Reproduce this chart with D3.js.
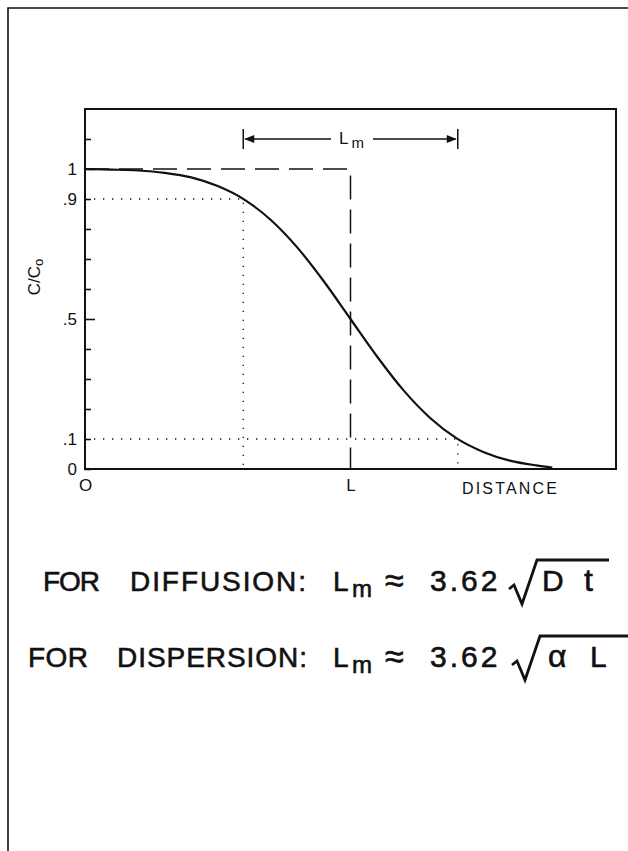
<!DOCTYPE html>
<html>
<head>
<meta charset="utf-8">
<script src="https://cdn.jsdelivr.net/npm/d3@7"></script>
<style>
  html, body { margin: 0; padding: 0; background: #fff; }
  svg { display: block; }
  text { font-family: "Liberation Sans", Arial, sans-serif; fill: #111; }
</style>
</head>
<body>
<svg id="chart" width="628" height="851"></svg>
<script>
// ---- data ----
const distance = [0, 0.1, 0.2, 0.3, 0.4, 0.5, 0.6, 0.7, 0.8, 0.9, 1.0, 1.1, 1.2, 1.3, 1.4, 1.5, 1.6, 1.7, 1.76];
const concentration = [1.0, 0.998, 0.995, 0.987, 0.972, 0.943, 0.898, 0.830, 0.738, 0.625, 0.5, 0.375, 0.262, 0.170, 0.102, 0.057, 0.028, 0.012, 0.005];
const yTickValues = [0, 0.1, 0.2, 0.3, 0.4, 0.5, 0.6, 0.7, 0.8, 0.9, 1.0, 1.1];
const yTickLabels = ["0", ".1", "", "", "", ".5", "", "", "", ".9", "1", ""];
const xTickValues = [0, 1];
const xTickLabels = ["O", "L"];
const stepLevel = 1.0;       // initial concentration
const stepFront = 1.0;       // position L
const highLevel = 0.9, lowLevel = 0.1;
const highPos = 0.596, lowPos = 1.404;   // where the curve crosses .9 and .1

// ---- layout ----
const svg = d3.select("#chart");
const x = d3.scaleLinear().domain([0, 2]).range([85, 616]);
const y = d3.scaleLinear().domain([0, 1.2]).range([469, 109]);
const FONT = "'Liberation Sans', Arial, sans-serif";

// outer frame (top and left rules)
svg.append("path").attr("d", "M8,851 L8,8 L628,8")
  .attr("fill", "none").attr("stroke", "#111").attr("stroke-width", 1.6);

// plot box
svg.append("rect").attr("x", x(0)).attr("y", y(1.2))
  .attr("width", x(2) - x(0)).attr("height", y(0) - y(1.2))
  .attr("fill", "none").attr("stroke", "#111").attr("stroke-width", 2);

// y axis ticks (inward)
const yAxis = d3.axisLeft(y).tickValues(yTickValues)
  .tickSizeInner(-6).tickSizeOuter(0).tickPadding(8)
  .tickFormat((d, i) => yTickLabels[i]);
const gy = svg.append("g").attr("transform", `translate(${x(0)},0)`).call(yAxis);
gy.select(".domain").remove();
gy.selectAll(".tick line").attr("stroke", "#111").attr("stroke-width", 1.6)
  .attr("x2", (d, i) => (yTickLabels[i] === ".5" || yTickLabels[i] === "1") ? 10 : 6);
gy.selectAll(".tick text").attr("font-size", 17).attr("fill", "#111")
  .style("font-family", FONT);

// x axis labels
const xAxis = d3.axisBottom(x).tickValues(xTickValues).tickSize(0).tickPadding(10)
  .tickFormat((d, i) => xTickLabels[i]);
const gx = svg.append("g").attr("transform", `translate(0,${y(0)})`).call(xAxis);
gx.select(".domain").remove();
gx.selectAll(".tick text").attr("font-size", 17).attr("fill", "#111")
  .style("font-family", FONT);

svg.append("text").attr("x", 462).attr("y", 494)
  .attr("font-size", 16).attr("textLength", 95).attr("lengthAdjust", "spacing")
  .text("DISTANCE");

// y axis title
const yt = svg.append("text").attr("transform", "translate(40,277) rotate(-90)")
  .attr("text-anchor", "middle").attr("font-size", 17);
yt.append("tspan").text("C/C");
yt.append("tspan").attr("font-size", 13).attr("dy", 3).text("o");

// dashed step (initial condition)
svg.append("path")
  .attr("d", d3.line()([[x(0), y(stepLevel)], [x(stepFront), y(stepLevel)], [x(stepFront), y(0)]]))
  .attr("fill", "none").attr("stroke", "#111").attr("stroke-width", 1.5)
  .attr("stroke-dasharray", "24,10");

// dotted guides at .9 and .1
const dotted = (pts) => svg.append("path").attr("d", d3.line()(pts))
  .attr("fill", "none").attr("stroke", "#111").attr("stroke-width", 1.3)
  .attr("stroke-dasharray", "1.3,7.7");
dotted([[x(0), y(highLevel)], [x(highPos), y(highLevel)], [x(highPos), y(0)]]);
dotted([[x(0), y(lowLevel)], [x(lowPos), y(lowLevel)], [x(lowPos), y(0)]]);

// concentration curve
const line = d3.line().x((d, i) => x(distance[i])).y(d => y(d)).curve(d3.curveMonotoneX);
svg.append("path").datum(concentration).attr("d", line)
  .attr("fill", "none").attr("stroke", "#111").attr("stroke-width", 2.2);

// L_m dimension arrow
const ay = y(1.1);
const x1 = x(highPos), x2 = x(lowPos);
[x1, x2].forEach(xx => svg.append("line").attr("x1", xx).attr("x2", xx)
  .attr("y1", ay - 10).attr("y2", ay + 10).attr("stroke", "#111").attr("stroke-width", 1.5));
svg.append("line").attr("x1", x1 + 2).attr("x2", 331).attr("y1", ay).attr("y2", ay)
  .attr("stroke", "#111").attr("stroke-width", 1.3);
svg.append("line").attr("x1", 373).attr("x2", x2 - 2).attr("y1", ay).attr("y2", ay)
  .attr("stroke", "#111").attr("stroke-width", 1.3);
svg.append("path").attr("d", `M${x1 + 1},${ay} L${x1 + 11},${ay - 4} L${x1 + 11},${ay + 4} Z`).attr("fill", "#111");
svg.append("path").attr("d", `M${x2 - 1},${ay} L${x2 - 11},${ay - 4} L${x2 - 11},${ay + 4} Z`).attr("fill", "#111");
const lm = svg.append("text").attr("x", 339).attr("y", ay + 5).attr("font-size", 17);
lm.append("tspan").text("L");
lm.append("tspan").attr("dx", 3).attr("dy", 4).attr("font-size", 15).text("m");

// formulas
function formula(yb, parts, rad) {
  parts.forEach(p => {
    const t = svg.append("text").attr("x", p.x).attr("y", yb + (p.dy || 0))
      .attr("font-size", p.size || 28)
      .attr("stroke", "#111").attr("stroke-width", 0.6)
      .attr("letter-spacing", p.ls || 0);
    if (p.len) t.attr("textLength", p.len).attr("lengthAdjust", "spacing");
    t.text(p.t);
  });
  svg.append("path").attr("d", rad).attr("fill", "none").attr("stroke", "#111")
    .attr("stroke-width", 2.8).attr("stroke-linejoin", "miter");
}
formula(591, [
  {t: "FOR", x: 43, len: 57},
  {t: "DIFFUSION:", x: 130, len: 176},
  {t: "L", x: 333},
  {t: "m", x: 352, size: 24, dy: 6},
  {t: "≈", x: 385, size: 34, dy: 1},
  {t: "3.62", x: 430, size: 30, ls: 3},
  {t: "D", x: 542, size: 30},
  {t: "t", x: 584, size: 32}
], "M509,589 L514,585 L522,604 L537,560 L609,560");
formula(667, [
  {t: "FOR", x: 28, len: 60},
  {t: "DISPERSION:", x: 117, len: 190},
  {t: "L", x: 333},
  {t: "m", x: 352, size: 24, dy: 6},
  {t: "≈", x: 385, size: 34, dy: 1},
  {t: "3.62", x: 430, size: 30, ls: 3},
  {t: "α", x: 548, size: 32},
  {t: "L", x: 590, size: 30}
], "M512,665 L517,661 L525,680 L540,636 L628,636");
</script>
</body>
</html>
